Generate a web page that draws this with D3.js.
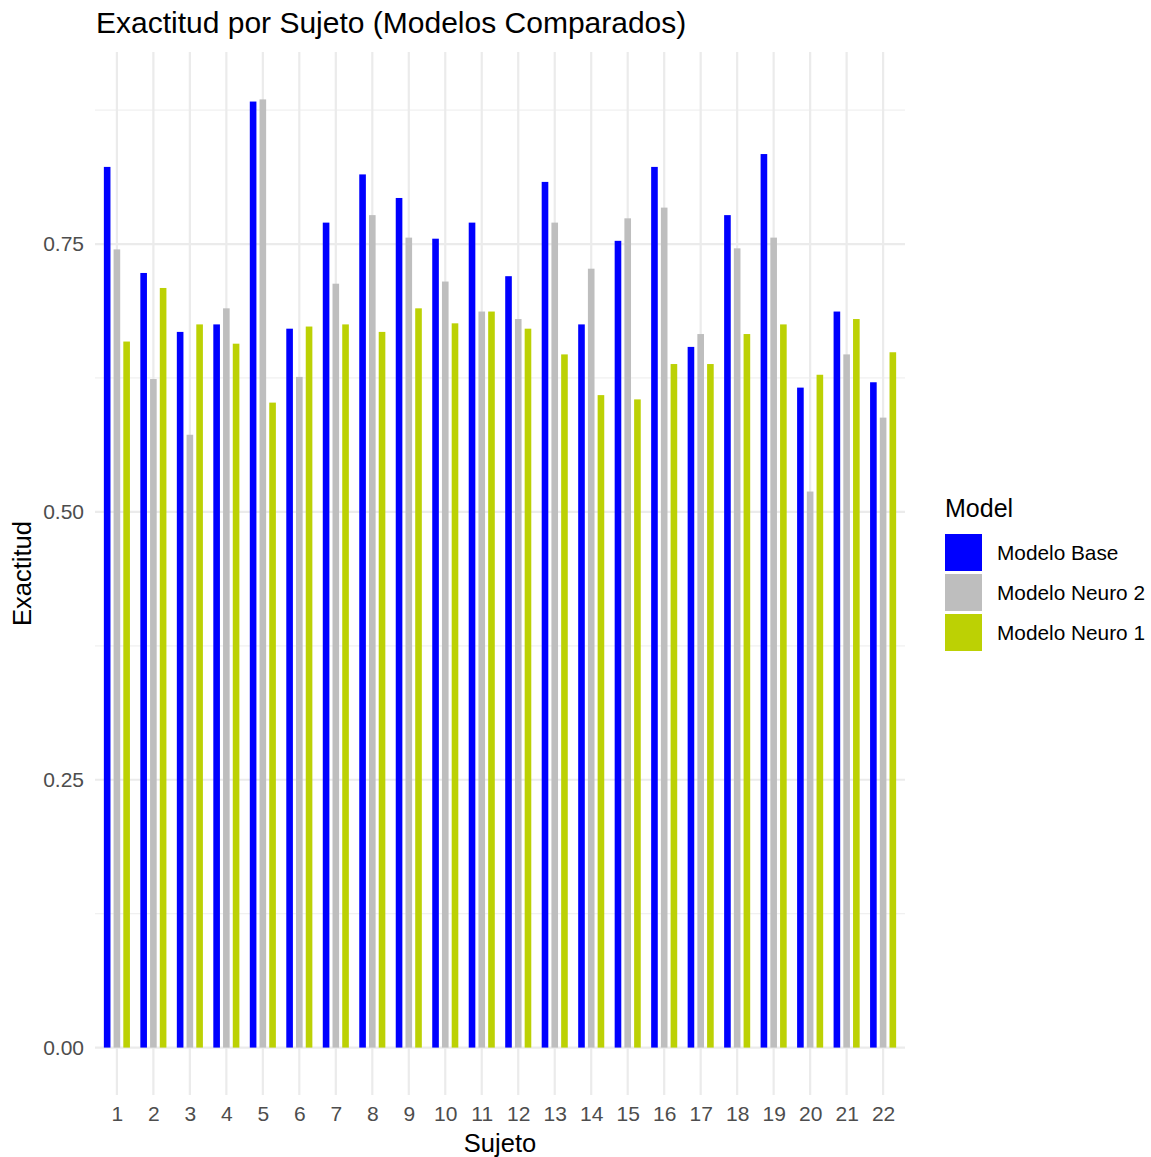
<!DOCTYPE html>
<html>
<head>
<meta charset="utf-8">
<script src="https://cdn.jsdelivr.net/npm/d3@7"></script>
<style>
  body { margin: 0; background: #fff; }
  text { font-family: "Liberation Sans", Arial, sans-serif; }
</style>
</head>
<body>
<div id="chart"></div>
<script>
// Subjects 1..22
const subjects = d3.range(1, 23).map(String);
const models = ['Modelo Base', 'Modelo Neuro 2', 'Modelo Neuro 1'];
const modelColors = ['#0000ff', '#bebebe', '#bcd104'];

const baseValues = [0.822, 0.723, 0.668, 0.675, 0.883, 0.671, 0.770, 0.815, 0.793, 0.755, 0.770,
  0.720, 0.808, 0.675, 0.753, 0.822, 0.654, 0.777, 0.834, 0.616, 0.687, 0.621];
const neuro2Values = [0.745, 0.624, 0.572, 0.690, 0.885, 0.626, 0.713, 0.777, 0.756, 0.715, 0.687,
  0.680, 0.770, 0.727, 0.774, 0.784, 0.666, 0.746, 0.756, 0.519, 0.647, 0.588];
const neuro1Values = [0.659, 0.709, 0.675, 0.657, 0.602, 0.673, 0.675, 0.668, 0.690, 0.676, 0.687,
  0.671, 0.647, 0.609, 0.605, 0.638, 0.638, 0.666, 0.675, 0.628, 0.680, 0.649];

const yTicks = [0, 0.25, 0.5, 0.75];
const yMinor = [0.125, 0.375, 0.625, 0.875];

const seriesValues = [baseValues, neuro2Values, neuro1Values];
const rows = [];
subjects.forEach((s, i) => {
  models.forEach((m, j) => rows.push({ subject: s, model: m, value: seriesValues[j][i] }));
});

const W = 1151, H = 1157;
const panel = { left: 95, right: 905, top: 52, bottom: 1095 };

const svg = d3.select('#chart').append('svg')
  .attr('width', W).attr('height', H);

// y scale with ggplot-style 5% expansion
const yMax = d3.max(rows, d => d.value);
const yPad = yMax * 0.05;
const y = d3.scaleLinear()
  .domain([-yPad, yMax + yPad])
  .range([panel.bottom, panel.top]);

// discrete x with 0.6 expansion on each side
const x = d3.scalePoint()
  .domain(subjects)
  .range([panel.left, panel.right])
  .padding(0.6);
const step = x.step();

const dodge = d3.scaleBand()
  .domain(models)
  .range([-0.4 * step, 0.4 * step]);
const barW = dodge.bandwidth() * 0.68;

const color = d3.scaleOrdinal().domain(models).range(modelColors);

const grid = svg.append('g');
// minor horizontal grid
grid.selectAll('.minor').data(yMinor).enter().append('line')
  .attr('x1', panel.left).attr('x2', panel.right)
  .attr('y1', d => y(d)).attr('y2', d => y(d))
  .attr('stroke', '#f0f0f0').attr('stroke-width', 1.2);
// major horizontal grid
grid.selectAll('.major').data(yTicks).enter().append('line')
  .attr('x1', panel.left).attr('x2', panel.right)
  .attr('y1', d => y(d)).attr('y2', d => y(d))
  .attr('stroke', '#ebebeb').attr('stroke-width', 2.2);
// vertical grid
grid.selectAll('.vgrid').data(subjects).enter().append('line')
  .attr('x1', d => x(d)).attr('x2', d => x(d))
  .attr('y1', panel.top).attr('y2', panel.bottom)
  .attr('stroke', '#ebebeb').attr('stroke-width', 2.2);

// bars
svg.append('g').selectAll('rect').data(rows).enter().append('rect')
  .attr('x', d => x(d.subject) + dodge(d.model) + (dodge.bandwidth() - barW) / 2)
  .attr('width', barW)
  .attr('y', d => y(d.value))
  .attr('height', d => y(0) - y(d.value))
  .attr('fill', d => color(d.model));

// y axis labels
const yAxis = d3.axisLeft(y).tickValues(yTicks).tickFormat(d3.format('.2f')).tickSize(0).tickPadding(11);
const gy = svg.append('g').attr('transform', `translate(${panel.left},0)`).call(yAxis);
gy.select('.domain').remove();
gy.selectAll('text').style('font-size', '21px').style('fill', '#4d4d4d')
  .style('font-family', '"Liberation Sans", Arial, sans-serif');

// x axis labels
const xAxis = d3.axisBottom(x).tickSize(0).tickPadding(11);
const gx = svg.append('g').attr('transform', `translate(0,${panel.bottom})`).call(xAxis);
gx.select('.domain').remove();
gx.selectAll('text').style('font-size', '21px').style('fill', '#4d4d4d')
  .style('font-family', '"Liberation Sans", Arial, sans-serif');

// titles
svg.append('text')
  .attr('x', 96).attr('y', 33)
  .style('font-size', '30px').style('fill', '#000')
  .text('Exactitud por Sujeto (Modelos Comparados)');

svg.append('text')
  .attr('x', (panel.left + panel.right) / 2).attr('y', 1152)
  .attr('text-anchor', 'middle')
  .style('font-size', '25.5px').style('fill', '#000')
  .text('Sujeto');

svg.append('text')
  .attr('transform', `translate(31,${(panel.top + panel.bottom) / 2}) rotate(-90)`)
  .attr('text-anchor', 'middle')
  .style('font-size', '25.5px').style('fill', '#000')
  .text('Exactitud');

// legend
const legend = svg.append('g').attr('transform', 'translate(945,0)');
legend.append('text')
  .attr('x', 0).attr('y', 517)
  .style('font-size', '25px').style('fill', '#000')
  .text('Model');
const item = legend.selectAll('.item').data(models).enter().append('g')
  .attr('transform', (d, i) => `translate(0,${534 + i * 40})`);
item.append('rect')
  .attr('width', 37).attr('height', 37)
  .attr('fill', d => color(d));
item.append('text')
  .attr('x', 52).attr('y', 18.5).attr('dy', '0.35em')
  .style('font-size', '20.8px').style('fill', '#000')
  .text(d => d);
</script>
</body>
</html>
